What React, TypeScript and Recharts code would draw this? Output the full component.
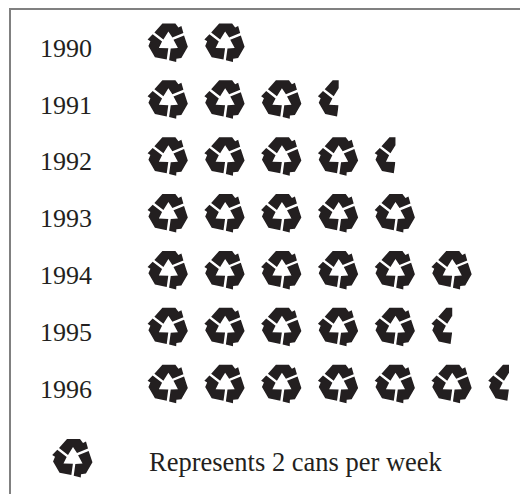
import { Bar, BarChart, Legend, XAxis, YAxis } from "recharts"

const years = ["1990", "1991", "1992", "1993", "1994", "1995", "1996"]
const cans = [4, 7, 9, 10, 12, 11, 13]
const cansPerIcon = 2
const legendLabel = "Represents 2 cans per week"

const rows = years.map((year, i) => ({ year, cans: cans[i] }))

const ink = "#231f20"
const serif = "'Liberation Serif', serif"

function RecycleIcon({ cx, cy }: { cx: number; cy: number }) {
  const arrow = "M-5,-3 L-14,-10 L-6,-19 L7,-19 L10,-15 L13,-16.5 L15,-9.5 L4,-5 L0,-11 Z"
  return (
    <g transform={`translate(${cx},${cy - 1})`} fill={ink}>
      <path d={arrow} />
      <path d={arrow} transform="rotate(120)" />
      <path d={arrow} transform="rotate(240)" />
    </g>
  )
}

function IconRow(props: any) {
  const { x, y, width, height, payload } = props
  const cell = (width / payload.cans) * cansPerIcon
  const count = Math.ceil(payload.cans / cansPerIcon)
  return (
    <g>
      {Array.from({ length: count }, (_, i) => (
        <svg
          key={i}
          x={x + i * cell}
          y={y}
          width={Math.min(cell, width - i * cell)}
          height={height}
        >
          <RecycleIcon cx={cell / 2} cy={height / 2} />
        </svg>
      ))}
    </g>
  )
}

function IconLegend() {
  return (
    <div style={{ position: "relative", height: 81 }}>
      <svg width={50} height={50} style={{ position: "absolute", left: 48, top: 21 }}>
        <RecycleIcon cx={25} cy={25} />
      </svg>
      <span
        style={{
          position: "absolute",
          left: 149,
          top: 34,
          fontFamily: serif,
          fontSize: 26.5,
          color: ink,
          whiteSpace: "nowrap",
        }}
      >
        {legendLabel}
      </span>
    </div>
  )
}

export default function App() {
  return (
    <div style={{ position: "absolute", left: 0, top: 0, width: 520, height: 494 }}>
      <div
        style={{
          position: "absolute",
          left: 9,
          top: 8,
          width: 511,
          height: 486,
          borderTop: "2px solid #808080",
          borderLeft: "2px solid #808080",
          boxSizing: "border-box",
        }}
      />
      <BarChart
        width={520}
        height={494}
        data={rows}
        layout="vertical"
        barCategoryGap={0}
        margin={{ top: 15, right: 11, bottom: 0, left: 0 }}
      >
        <XAxis type="number" hide domain={[0, 13]} />
        <YAxis
          type="category"
          dataKey="year"
          width={140}
          axisLine={false}
          tickLine={false}
          tickSize={0}
          tickMargin={48}
          tick={{ fill: ink, fontSize: 26, fontFamily: serif, dy: 4 }}
        />
        <Legend
          content={<IconLegend />}
          verticalAlign="bottom"
          wrapperStyle={{ left: 0, width: 520, bottom: 0, height: 81 }}
        />
        <Bar dataKey="cans" shape={IconRow} isAnimationActive={false} />
      </BarChart>
    </div>
  )
}
